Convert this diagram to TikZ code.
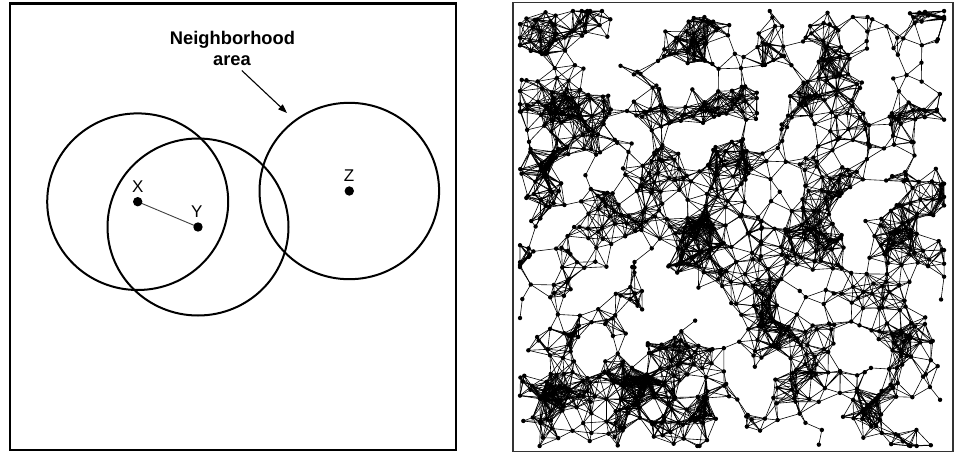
\documentclass[tikz,border=0pt]{standalone}
\usepackage{fontspec}
\setmainfont{Liberation Sans}
\usetikzlibrary{arrows.meta}
\tikzset{
  frameL/.style={draw=black, line width=2.5pt},
  frameR/.style={draw=black!80, line width=1.8pt},
  ring/.style={draw=black, line width=2pt},
  bigdot/.style={fill=black},
  lbl/.style={font=\fontsize{17}{20}\selectfont, inner sep=0pt, anchor=base},
  title/.style={font=\bfseries\fontsize{18.3}{21}\selectfont, inner sep=0pt, anchor=base},
  link/.style={draw=black!75, line width=0.9pt},
  pointer/.style={draw=black, line width=1.1pt, -{Triangle[length=9pt,width=6.5pt]}},
  edge/.style={draw=black, line width=0.6pt},
  gdot/.style={fill=black},
}
\newcount\gnpts
\newcount\gii
\protected\def\pdo#1{}
\def\addpt#1#2{%
  \global\advance\gnpts by 1\relax
  \expandafter\xdef\csname gpx\the\gnpts\endcsname{#1}%
  \expandafter\xdef\csname gpy\the\gnpts\endcsname{#2}%
  \edef\gcx{\number\numexpr(#1-5170)/260\relax}%
  \edef\gcy{\number\numexpr(#2-80)/260\relax}%
  \expandafter\xdef\csname gcell\gcx:\gcy\endcsname{\csname gcell\gcx:\gcy\endcsname\pdo{\the\gnpts}}%
}
\def\clampv#1#2#3{\ifnum#1<#2 #2\else\ifnum#1>#3 #3\else#1\fi\fi}
\def\chk#1{%
  \ifnum#1>\ci\relax
    \ifnum\numexpr(\csname gpx#1\endcsname-\cix)*(\csname gpx#1\endcsname-\cix)+(\csname gpy#1\endcsname-\ciy)*(\csname gpy#1\endcsname-\ciy)\relax<55225\relax
      \xdef\edgepath{\edgepath(p\ci)--(p#1)}%
    \fi
  \fi}
\def\docell#1#2{\csname gcell\number\numexpr\ccx+#1\relax:\number\numexpr\ccy+#2\relax\endcsname}
\begin{document}
\begin{tikzpicture}[x=1pt,y=-1pt]
\useasboundingbox (0,0) rectangle (956,455);
\fill[white] (0,0) rectangle (956,455);
% ---------------- left panel
\draw[frameL] (10,3.5) rectangle (456,450);
\coordinate (X) at (137.7,201.7);
\coordinate (Y) at (198,227);
\coordinate (Z) at (349.3,191);
\draw[ring] (X) ellipse[x radius=90.5, y radius=88.3];
\draw[ring] (Y) ellipse[x radius=90.5, y radius=88.5];
\draw[ring] (Z) ellipse[x radius=89.8, y radius=88.2];
\draw[link] (X) -- (Y);
\fill[bigdot] (X) circle[radius=4.7];
\fill[bigdot] (Y) circle[radius=4.7];
\fill[bigdot] (Z) circle[radius=4.7];
\node[lbl] (xl) at (137.7,192.7) {X};
\node[lbl] (yl) at (196.8,217.3) {Y};
\node[lbl] (zl) at (349,181.7) {Z};
\node[title] (t1) at (232.5,44.3) {Neighborhood};
\node[title] (t2) at (232,65) {area};
\coordinate (atail) at (241.8,70.5);
\coordinate (ahead) at (287,113);
\draw[pointer] (atail) -- (ahead);
% ---------------- right panel: random geometric graph
\foreach \a in {-1,...,19}{\foreach \b in {-1,...,19}{\expandafter\gdef\csname gcell\a:\b\endcsname{}}}
\pgfmathsetseed{27182}
\foreach \k in {1,...,155}{%
  \pgfmathrandominteger{\kcx}{5200}{9440}%
  \pgfmathrandominteger{\kcy}{110}{4460}%
  \pgfmathrandominteger{\cm}{2}{9}%
  \foreach \m in {1,...,\cm}{%
    \pgfmathrandominteger{\ra}{-120}{120}%
    \pgfmathrandominteger{\rb}{-120}{120}%
    \pgfmathrandominteger{\rc}{-120}{120}%
    \pgfmathrandominteger{\rd}{-120}{120}%
    \pgfmathrandominteger{\re}{-120}{120}%
    \pgfmathrandominteger{\rf}{-120}{120}%
    \edef\tx{\number\numexpr\kcx+\ra+\rb+\rc\relax}%
    \edef\ty{\number\numexpr\kcy+\rd+\re+\rf\relax}%
    \edef\tx{\clampv{\tx}{5200}{9440}}%
    \edef\ty{\clampv{\ty}{110}{4460}}%
    \addpt{\tx}{\ty}%
  }%
}
\foreach \k in {1,...,300}{%
  \pgfmathrandominteger{\tx}{5200}{9440}%
  \pgfmathrandominteger{\ty}{110}{4460}%
  \addpt{\tx}{\ty}%
}
\begin{scope}[x=0.1pt,y=-0.1pt]
\gii=0
\loop
  \global\advance\gii by 1
  \edef\ci{\the\gii}%
  \coordinate (p\ci) at (\csname gpx\ci\endcsname,\csname gpy\ci\endcsname);
\ifnum\gii<\gnpts\repeat
\gii=0
\loop
  \global\advance\gii by 1
  \edef\ci{\the\gii}%
  \edef\cix{\csname gpx\ci\endcsname}%
  \edef\ciy{\csname gpy\ci\endcsname}%
  \edef\ccx{\number\numexpr(\cix-5170)/260\relax}%
  \edef\ccy{\number\numexpr(\ciy-80)/260\relax}%
  \gdef\edgepath{}%
  \let\pdo\chk
  \docell{-1}{-1}\docell{-1}{0}\docell{-1}{1}\docell{0}{-1}\docell{0}{0}\docell{0}{1}\docell{1}{-1}\docell{1}{0}\docell{1}{1}%
  \ifx\edgepath\empty\else\edef\drawit{\noexpand\draw[edge] \edgepath;}\drawit\fi
\ifnum\gii<\gnpts\repeat
\gii=0
\loop
  \global\advance\gii by 1
  \edef\ci{\the\gii}%
  \fill[gdot] (p\ci) circle[radius=2.2pt];
\ifnum\gii<\gnpts\repeat
\end{scope}
\draw[frameR] (513,2.5) rectangle (953,451.5);
\end{tikzpicture}
\end{document}
